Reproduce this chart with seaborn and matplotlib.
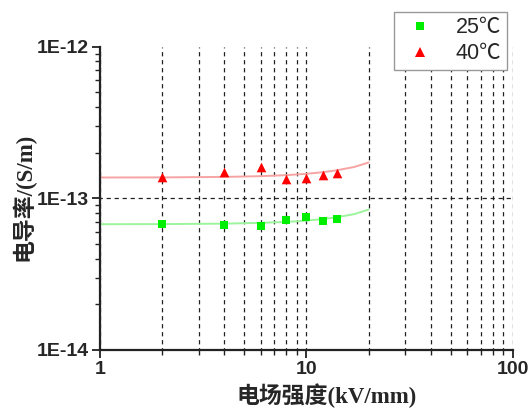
import numpy as np
import pandas as pd
import matplotlib
matplotlib.use("Agg")
import matplotlib.pyplot as plt
from matplotlib.ticker import FixedLocator, LogLocator, NullFormatter
from matplotlib.lines import Line2D
import seaborn as sns

# Measured conductivity vs. electric field
field_kv_mm = [2, 4, 6, 8, 10, 12, 14]
sigma_25c = [6.75e-14, 6.62e-14, 6.58e-14, 7.21e-14, 7.55e-14, 7.07e-14, 7.36e-14]
sigma_40c = [1.39e-13, 1.49e-13, 1.62e-13, 1.34e-13, 1.37e-13, 1.42e-13, 1.47e-13]

# Fitted trend curves
fit_field = [1, 2, 4, 6, 8, 10, 12, 14, 17, 20]
fit_25c = [6.75e-14, 6.76e-14, 6.81e-14, 6.89e-14, 6.99e-14, 7.13e-14, 7.30e-14, 7.50e-14, 7.86e-14, 8.43e-14]
fit_40c = [1.372e-13, 1.374e-13, 1.384e-13, 1.400e-13, 1.422e-13, 1.451e-13, 1.487e-13, 1.530e-13, 1.608e-13, 1.723e-13]

series_labels = ["25℃", "40℃"]
y_tick_values = [1e-14, 1e-13, 1e-12]
y_tick_labels = ["1E-14", "1E-13", "1E-12"]
x_tick_values = [1, 10, 100]
x_tick_labels = ["1", "10", "100"]

sns.set_theme(style="white")
plt.rcParams["font.family"] = ["Liberation Sans", "Noto Sans CJK SC", "DejaVu Sans"]

pts = pd.DataFrame({
    "E": field_kv_mm * 2,
    "sigma": sigma_25c + sigma_40c,
    "T": [series_labels[0]] * len(field_kv_mm) + [series_labels[1]] * len(field_kv_mm),
})
fits = pd.DataFrame({
    "E": fit_field * 2,
    "sigma": fit_25c + fit_40c,
    "T": [series_labels[0]] * len(fit_field) + [series_labels[1]] * len(fit_field),
})

fig = plt.figure(figsize=(5.30, 4.09), dpi=100)
ax = fig.add_axes([0.1887, 0.1443, 0.779, 0.7416])

ax.set_xscale("log")
ax.set_yscale("log")
ax.set_xlim(1, 100)
ax.set_ylim(1e-14, 1e-12)

# dashed reference grid
grid_style = dict(color="#222222", linestyle=(1.5, (3.4, 3.0)), linewidth=0.9)
ax.xaxis.set_minor_locator(LogLocator(base=10, subs=np.arange(2, 10)))
ax.yaxis.set_minor_locator(LogLocator(base=10, subs=np.arange(2, 10)))
ax.grid(True, which="both", axis="x", **grid_style)
ax.grid(True, which="major", axis="y", **grid_style)
ax.set_axisbelow(True)

line_palette = {series_labels[0]: "#9cf59c", series_labels[1]: "#f7a3a3"}
sns.lineplot(data=fits, x="E", y="sigma", hue="T", palette=line_palette,
             linewidth=1.4, legend=False, ax=ax, sort=False, estimator=None)

pt_palette = {series_labels[0]: "#00ee00", series_labels[1]: "#ff0000"}
sns.scatterplot(data=pts[pts["T"] == series_labels[0]], x="E", y="sigma",
                color=pt_palette[series_labels[0]], marker="s", s=28,
                linewidth=0, ax=ax, legend=False, zorder=5)
sns.scatterplot(data=pts[pts["T"] == series_labels[1]], x="E", y="sigma",
                color=pt_palette[series_labels[1]], marker="^", s=48,
                linewidth=0, ax=ax, legend=False, zorder=5)

# axes styling
for side in ["top", "right"]:
    ax.spines[side].set_visible(False)
for side in ["left", "bottom"]:
    ax.spines[side].set_color("#222222")
    ax.spines[side].set_linewidth(1.6)

ax.yaxis.set_major_locator(FixedLocator(y_tick_values))
ax.set_yticklabels(y_tick_labels)
ax.yaxis.set_minor_formatter(NullFormatter())
ax.xaxis.set_major_locator(FixedLocator(x_tick_values))
ax.set_xticklabels(x_tick_labels)
ax.xaxis.set_minor_formatter(NullFormatter())

# keep only the interior horizontal grid line
ax.get_ygridlines()[-1].set_visible(False)
ax.get_ygridlines()[0].set_visible(False)

ax.tick_params(axis="both", which="major", direction="out", length=6, width=1.3,
               color="#222222", labelsize=14, pad=2, left=True, bottom=True)
ax.tick_params(axis="both", which="minor", direction="out", length=3.5, width=1.0,
               color="#222222", left=True, bottom=True)
for lab in ax.get_xticklabels() + ax.get_yticklabels():
    lab.set_fontweight("bold")
    lab.set_family(["Liberation Sans", "DejaVu Sans"])

label_font = ["Liberation Serif", "Noto Sans CJK SC", "DejaVu Serif"]
ax.set_xlabel("电场强度(kV/mm)", fontsize=16.5, fontweight="bold", family=label_font)
ax.set_ylabel("电导率/(S/m)", fontsize=16.5, fontweight="bold", family=label_font)
ax.xaxis.set_label_coords(0.549, -0.109)
ax.yaxis.set_label_coords(-0.157, 0.506)

handles = [
    Line2D([], [], linestyle="none", marker="s", markersize=5.5,
           markerfacecolor=pt_palette[series_labels[0]], markeredgewidth=0),
    Line2D([], [], linestyle="none", marker="^", markersize=7,
           markerfacecolor=pt_palette[series_labels[1]], markeredgewidth=0),
]
leg = fig.legend(handles, series_labels, loc="upper right",
                 bbox_to_anchor=(0.9566, 0.9714), frameon=True, fancybox=False,
                 edgecolor="#999999", framealpha=1, borderpad=0.25,
                 handletextpad=0.65, labelspacing=0.25, handlelength=2.0,
                 borderaxespad=0.0,
                 prop={"family": ["Liberation Sans", "Noto Sans CJK SC"], "size": 15.5})
leg.get_frame().set_linewidth(1.0)

fig.savefig("out.png", dpi=100)
